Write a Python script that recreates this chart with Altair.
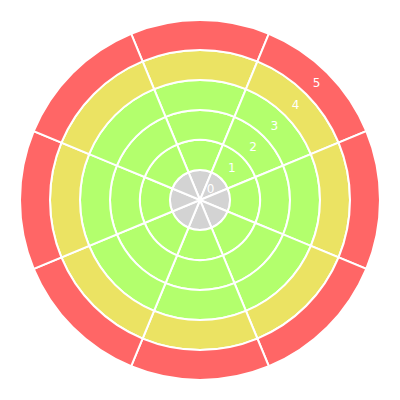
import altair as alt
import pandas as pd

levels = [0, 1, 2, 3, 4, 5]
level_colors = ["#d3d3d3", "#b3ff6d", "#b3ff6d", "#b3ff6d", "#ebe363", "#ff6666"]
sectors = [0, 1, 2, 3, 4, 5, 6, 7]
label_sector = 1.5

rows = []
for s in sectors:
    for lv in levels:
        rows.append({"s": s, "s2": s + 1, "r": lv, "r2": lv + 1, "level": str(lv)})
df = pd.DataFrame(rows)
labels = pd.DataFrame({"t": [label_sector] * len(levels),
                       "r": [lv + 0.5 for lv in levels],
                       "text": [str(lv) for lv in levels]})

import math
theta_scale = alt.Scale(domain=[0, 8], range=[-math.pi / 8, 2 * math.pi - math.pi / 8])
r_scale = alt.Scale(domain=[0, 6], range=[0, 180])

arcs = alt.Chart(df).mark_arc(stroke="white", strokeWidth=2).encode(
    theta=alt.Theta("s:Q", scale=theta_scale),
    theta2="s2:Q",
    radius=alt.Radius("r:Q", scale=r_scale),
    radius2="r2:Q",
    color=alt.Color("level:N", scale=alt.Scale(domain=[str(l) for l in levels], range=level_colors), legend=None),
)

text = alt.Chart(labels).mark_text(color="white", fontSize=12, font="DejaVu Sans").encode(
    theta=alt.Theta("t:Q", scale=theta_scale),
    radius=alt.Radius("r:Q", scale=r_scale),
    text="text:N",
)

chart = alt.layer(arcs, text).properties(width=384, height=384, padding=0, autosize="none").configure_view(strokeWidth=0)
chart.save("out.html", embed_options={"renderer": "svg", "actions": False})
